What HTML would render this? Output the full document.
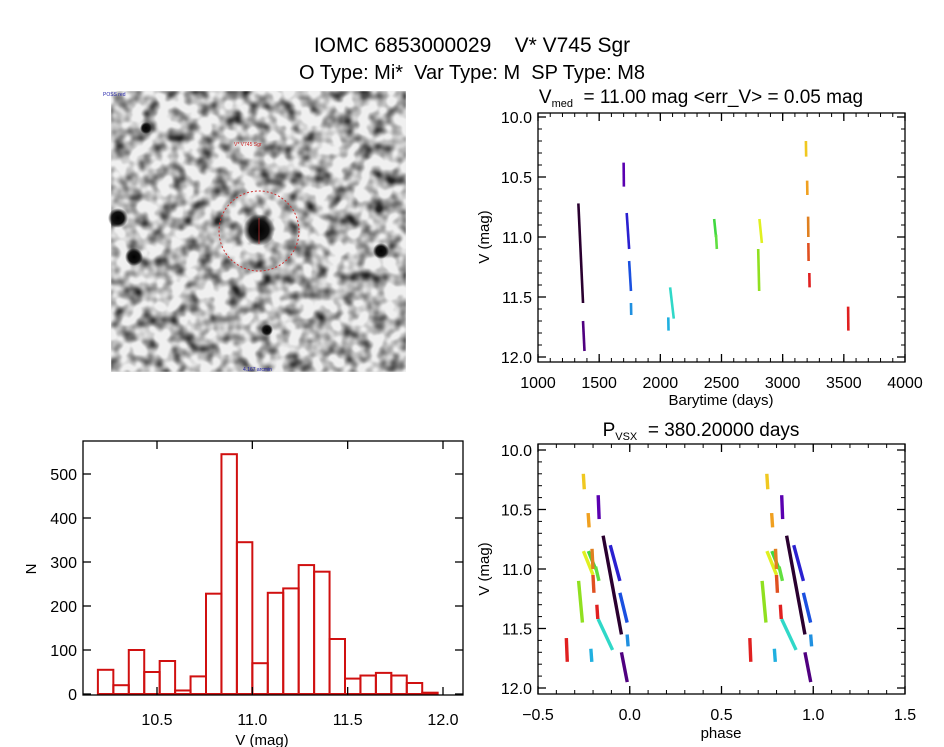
<!DOCTYPE html>
<html><head><meta charset="utf-8">
<style>
html,body{margin:0;padding:0;background:#fff;}
svg{display:block;font-family:"Liberation Sans",sans-serif;}
text{white-space:pre;}
</style></head>
<body>
<svg id="fig" width="944" height="747" viewBox="0 0 944 747">
  <defs>
    <filter id="noise" x="0" y="0" width="100%" height="100%">
      <feTurbulence type="fractalNoise" baseFrequency="0.07" numOctaves="2" seed="7" result="n"/>
      <feColorMatrix in="n" type="matrix" values="0 0 0 0 0  0 0 0 0 0  0 0 0 0 0  -2.2 0 0 0 1.35" result="a"/>
      <feGaussianBlur in="a" stdDeviation="0.8"/>
    </filter>
    <radialGradient id="star"><stop offset="0" stop-color="#000"/><stop offset="0.6" stop-color="#111"/><stop offset="1" stop-color="#000" stop-opacity="0"/></radialGradient>
  </defs>
  <text x="472" y="52" font-size="21" text-anchor="middle">IOMC 6853000029    V* V745 Sgr</text>
  <text x="472" y="79" font-size="20" text-anchor="middle">O Type: Mi*  Var Type: M  SP Type: M8</text>

  <g>
    <rect x="111" y="91" width="295" height="281" fill="#f0f0f0"/>
    <rect x="111" y="91" width="295" height="281" fill="#000" opacity="0.85" filter="url(#noise)"/>
    <circle cx="259" cy="230" r="16" fill="url(#star)"/>
    <circle cx="118" cy="218" r="10" fill="url(#star)"/>
    <circle cx="134" cy="257" r="9" fill="url(#star)"/>
    <circle cx="381" cy="251" r="8" fill="url(#star)"/>
    <circle cx="146" cy="128" r="6" fill="url(#star)"/>
    <circle cx="267" cy="330" r="6" fill="url(#star)"/>
    <circle cx="259" cy="231" r="40" fill="none" stroke="#c33" stroke-width="1" stroke-dasharray="2 2"/>
    <line x1="259" y1="218" x2="259" y2="244" stroke="#c33" stroke-width="0.7"/>
    <text x="234" y="146" font-size="5" fill="#c22">V* V745 Sgr</text>
    <text x="103" y="96" font-size="5" fill="#22a">POSS red</text>
    <text x="243" y="371" font-size="5" fill="#22a">4.167 arcmin</text>
  </g>
</svg>
<script>
// ---- light curve data (segments: time start/end, mag start/end, colour) ----
const segT0 = [1330,1368,1700,1725,1745,1760,2065,2080,2440,2455,2810,2800,3190,3200,3208,3210,3218,3535];
const segT1 = [1368,1380,1702,1745,1760,1762,2067,2110,2455,2462,2830,2808,3192,3202,3210,3212,3220,3537];
const segM0 = [10.72,11.70,10.38,10.80,11.20,11.55,11.67,11.42,10.85,10.98,10.85,11.10,10.20,10.53,10.83,11.05,11.30,11.58];
const segM1 = [11.55,11.95,10.58,11.10,11.45,11.65,11.78,11.68,11.00,11.10,11.05,11.45,10.33,10.65,11.00,11.20,11.42,11.78];
const segCol = ["#2a0030","#500080","#5a00b0","#2a20d0","#1a50e0","#2090e0","#20b0e0","#30d8c8","#40d840","#60e040","#e0f020","#90e020","#f0c820","#f0a020","#e08020","#e05020","#e02020","#e02020"];
const period = 380.2;
const epoch = 1005;
// ---- histogram data ----
const histStart = 10.19;
const histWidth = 0.081;
const histCounts = [55,20,100,50,75,8,40,228,545,345,70,230,240,293,278,125,35,42,48,42,25,3];
const lcXTicks = [1000,1500,2000,2500,3000,3500,4000];
const magTicks = [10.0,10.5,11.0,11.5,12.0];
const phaseTicks = [-0.5,0.0,0.5,1.0,1.5];
const histXTicks = [10.5,11.0,11.5,12.0];
const histYTicks = [0,100,200,300,400,500];

const NS="http://www.w3.org/2000/svg";
const svg=document.getElementById('fig');
function mk(tag,attrs,parent){const e=document.createElementNS(NS,tag);for(const k in attrs)e.setAttribute(k,attrs[k]);(parent||svg).appendChild(e);return e;}
function lin(d0,d1,r0,r1){return v=>r0+(v-d0)*(r1-r0)/(d1-d0);}

function frame(g,x0,y0,x1,y1,xs,ys,xMaj,xMinStep,yMaj,yMinStep,xFmt,yFmt,labY){
  mk('rect',{x:x0,y:y0,width:x1-x0,height:y1-y0,fill:'none',stroke:'#000','stroke-width':1.3},g);
  const xmin=Math.min(xMaj[0],xMaj[xMaj.length-1]), xmax=Math.max(xMaj[0],xMaj[xMaj.length-1]);
  if(xMinStep){for(let v=xmin;v<=xmax+1e-9;v+=xMinStep){const x=xs(v);mk('line',{x1:x,y1:y1,x2:x,y2:y1-4,stroke:'#000'},g);mk('line',{x1:x,y1:y0,x2:x,y2:y0+4,stroke:'#000'},g);}}
  xMaj.forEach(v=>{const x=xs(v);mk('line',{x1:x,y1:y1,x2:x,y2:y1-8,stroke:'#000','stroke-width':1.3},g);mk('line',{x1:x,y1:y0,x2:x,y2:y0+8,stroke:'#000','stroke-width':1.3},g);
    const t=mk('text',{x:x,y:labY,'font-size':16,'text-anchor':'middle'},g);t.textContent=xFmt(v);
    
    });
  const ymin=Math.min(yMaj[0],yMaj[yMaj.length-1]), ymax=Math.max(yMaj[0],yMaj[yMaj.length-1]);
  if(yMinStep){for(let v=ymin;v<=ymax+1e-9;v+=yMinStep){const y=ys(v);mk('line',{x1:x0,y1:y,x2:x0+4,y2:y,stroke:'#000'},g);mk('line',{x1:x1,y1:y,x2:x1-4,y2:y,stroke:'#000'},g);}}
  yMaj.forEach(v=>{const y=ys(v);mk('line',{x1:x0,y1:y,x2:x0+8,y2:y,stroke:'#000','stroke-width':1.3},g);mk('line',{x1:x1,y1:y,x2:x1-8,y2:y,stroke:'#000','stroke-width':1.3},g);
    const t=mk('text',{x:x0-6,y:y+6,'font-size':16,'text-anchor':'end'},g);t.textContent=yFmt(v);
    
    });
}
function label(g,x,y,txt,size,rot,name){const t=mk('text',{x:x,y:y,'font-size':size,'text-anchor':'middle'},g);if(rot)t.setAttribute('transform','rotate(-90 '+x+' '+y+')');t.textContent=txt;
  
  return t;}

// ---- light curve panel ----
const g1=mk('g',{});


const lx=lin(1000,4000,538,905), ly=lin(10,12,117,357);
segT0.forEach((t,i)=>{const l=mk('line',{x1:lx(t),y1:ly(segM0[i]),x2:lx(segT1[i]),y2:ly(segM1[i]),stroke:segCol[i],'stroke-width':2.6},g1);
  
  });
frame(g1,538,113,905,362,lx,ly,lcXTicks,100,magTicks,0.1,v=>String(v),v=>v.toFixed(1),388);
const tt=label(g1,701,103,'',19,false,'light-curve-title');
tt.innerHTML='V<tspan font-size="11" dy="4">med</tspan><tspan dy="-4">  = 11.00 mag &lt;err_V&gt; = 0.05 mag</tspan>';
label(g1,721,405,'Barytime (days)',15,false,'x-axis-title');
label(g1,489,237,'V (mag)',15,true,'y-axis-title');

// ---- phase panel ----
const g2=mk('g',{});


const px=lin(-0.5,1.5,538,905), py=lin(10,12,450,688);
function ph(t){let p=((t-epoch)/period)%1-1;if(p<-0.5)p+=1;return p;}
segT0.forEach((t,i)=>{let p0=ph(t),p1=p0+(segT1[i]-t)/period;
  [0,1].forEach(o=>{const l=mk('line',{x1:px(p0+o),y1:py(segM0[i]),x2:px(p1+o),y2:py(segM1[i]),stroke:segCol[i],'stroke-width':3.4},g2);
    
    });});
frame(g2,538,444,905,694,px,py,phaseTicks,0.1,magTicks,0.1,v=>v.toFixed(1).replace('-','\u2212'),v=>v.toFixed(1),720);
const pt=label(g2,701,436,'',19,false,'phase-title');
pt.innerHTML='P<tspan font-size="11" dy="4">VSX</tspan><tspan dy="-4">  = 380.20000 days</tspan>';
label(g2,721,738,'phase',15,false,'phase-x-axis-title');
label(g2,489,569,'V (mag)',15,true,'phase-y-axis-title');

// ---- histogram panel ----
const g3=mk('g',{});


const hx=lin(10.5,12.0,157,443), hy=lin(0,500,694,474);
histCounts.forEach((c,i)=>{const a=hx(histStart+i*histWidth), b=hx(histStart+(i+1)*histWidth);
  const r=mk('rect',{x:a,y:hy(c),width:b-a,height:hy(0)-hy(c),fill:'none',stroke:'#d01010','stroke-width':2},g3);
  
  });
frame(g3,83,441,463,695,hx,hy,histXTicks,0,histYTicks,0,v=>v.toFixed(1),v=>String(v),725);
label(g3,262,745,'V (mag)',15,false,'hist-x-axis-title');
label(g3,36,569,'N',15,true,'hist-y-axis-title');
</script>
</body></html>
